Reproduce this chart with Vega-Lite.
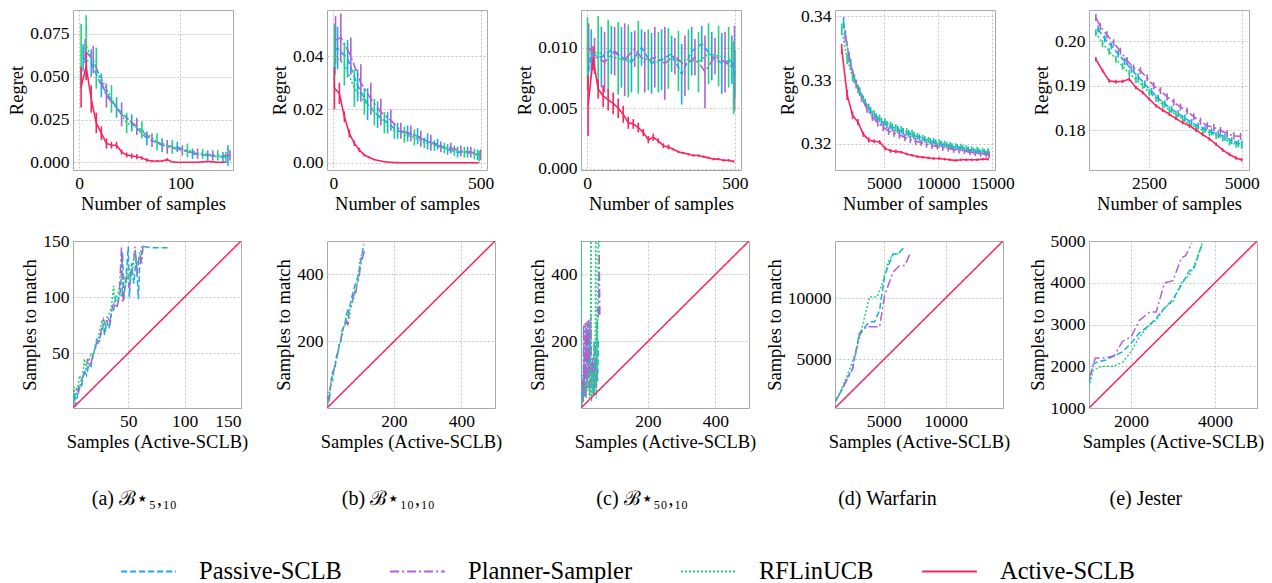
{
  "$schema": "https://vega.github.io/schema/vega-lite/v6.json",
  "background": "white",
  "padding": {"left": 7, "top": 6, "right": 5, "bottom": 0},
  "config": {
    "view": {"stroke": "#aaaaaa", "strokeWidth": 1},
    "axis": {
      "labelFont": "Liberation Serif", "titleFont": "Liberation Serif",
      "labelFontSize": 17.5, "titleFontSize": 18.5, "titleFontWeight": "normal",
      "labelColor": "#000", "titleColor": "#000",
      "domain": false, "ticks": false, "labelPadding": 4, "titlePadding": 3,
      "gridColor": "#b5b5b5", "gridDash": [2, 2], "gridWidth": 0.8
    },
    "title": {"font": "Liberation Serif", "fontSize": 20, "fontWeight": "normal", "color": "#000"}
  },
  "datasets": {
    "ta": [
      {"m":"Passive-SCLB","x":4,"y":0.061,"e":0.008},{"m":"Passive-SCLB","x":12,"y":0.058,"e":0.008},{"m":"Passive-SCLB","x":22,"y":0.045,"e":0.007},{"m":"Passive-SCLB","x":37,"y":0.032,"e":0.006},{"m":"Passive-SCLB","x":52,"y":0.023,"e":0.005},{"m":"Passive-SCLB","x":67,"y":0.014,"e":0.004},{"m":"Passive-SCLB","x":82,"y":0.010,"e":0.004},{"m":"Passive-SCLB","x":97,"y":0.009,"e":0.003},{"m":"Passive-SCLB","x":112,"y":0.005,"e":0.003},{"m":"Passive-SCLB","x":127,"y":0.004,"e":0.003},{"m":"Passive-SCLB","x":142,"y":0.003,"e":0.003},{"m":"Passive-SCLB","x":147,"y":0.004,"e":0.006},
      {"m":"Planner-Sampler","x":6,"y":0.065,"e":0.007},{"m":"Planner-Sampler","x":14,"y":0.060,"e":0.008},{"m":"Planner-Sampler","x":27,"y":0.039,"e":0.007},{"m":"Planner-Sampler","x":42,"y":0.028,"e":0.007},{"m":"Planner-Sampler","x":57,"y":0.021,"e":0.005},{"m":"Planner-Sampler","x":72,"y":0.013,"e":0.004},{"m":"Planner-Sampler","x":87,"y":0.009,"e":0.004},{"m":"Planner-Sampler","x":102,"y":0.007,"e":0.003},{"m":"Planner-Sampler","x":117,"y":0.005,"e":0.003},{"m":"Planner-Sampler","x":132,"y":0.004,"e":0.003},{"m":"Planner-Sampler","x":149,"y":0.004,"e":0.003},
      {"m":"RFLinUCB","x":2,"y":0.062,"e":0.019},{"m":"RFLinUCB","x":7,"y":0.068,"e":0.018},{"m":"RFLinUCB","x":17,"y":0.055,"e":0.012},{"m":"RFLinUCB","x":32,"y":0.037,"e":0.008},{"m":"RFLinUCB","x":47,"y":0.023,"e":0.006},{"m":"RFLinUCB","x":62,"y":0.019,"e":0.005},{"m":"RFLinUCB","x":77,"y":0.012,"e":0.005},{"m":"RFLinUCB","x":92,"y":0.009,"e":0.004},{"m":"RFLinUCB","x":107,"y":0.007,"e":0.004},{"m":"RFLinUCB","x":122,"y":0.005,"e":0.003},{"m":"RFLinUCB","x":137,"y":0.004,"e":0.003},{"m":"RFLinUCB","x":145,"y":0.003,"e":0.003},
      {"m":"Active-SCLB","x":2,"y":0.044,"e":0.012},{"m":"Active-SCLB","x":7,"y":0.056,"e":0.008},{"m":"Active-SCLB","x":12,"y":0.037,"e":0.008},{"m":"Active-SCLB","x":17,"y":0.023,"e":0.006},{"m":"Active-SCLB","x":22,"y":0.017,"e":0.004},{"m":"Active-SCLB","x":27,"y":0.011,"e":0.003},{"m":"Active-SCLB","x":32,"y":0.010,"e":0.002},{"m":"Active-SCLB","x":37,"y":0.010,"e":0.002},{"m":"Active-SCLB","x":42,"y":0.006,"e":0.0015},{"m":"Active-SCLB","x":47,"y":0.0043,"e":0.0015},{"m":"Active-SCLB","x":52,"y":0.0037,"e":0.0015},{"m":"Active-SCLB","x":57,"y":0.0033,"e":0.0015},{"m":"Active-SCLB","x":62,"y":0.0025,"e":0.001},{"m":"Active-SCLB","x":67,"y":0.0013,"e":0.001},{"m":"Active-SCLB","x":72,"y":0.0008,"e":0.0005},{"m":"Active-SCLB","x":77,"y":0.0007,"e":0.0005},{"m":"Active-SCLB","x":82,"y":0.0008,"e":0.0005},{"m":"Active-SCLB","x":87,"y":0.0015,"e":0.0008},{"m":"Active-SCLB","x":92,"y":0.0003,"e":0.0003},{"m":"Active-SCLB","x":97,"y":0,"e":0},{"m":"Active-SCLB","x":107,"y":0,"e":0},{"m":"Active-SCLB","x":117,"y":0,"e":0},{"m":"Active-SCLB","x":127,"y":0.0005,"e":0.0004},{"m":"Active-SCLB","x":137,"y":0,"e":0},{"m":"Active-SCLB","x":145,"y":0,"e":0}
    ],
    "tb": [
      {"m":"Passive-SCLB","x":5,"y":0.042,"e":0.009},{"m":"Passive-SCLB","x":14,"y":0.043,"e":0.008},{"m":"Passive-SCLB","x":48,"y":0.039,"e":0.007},{"m":"Passive-SCLB","x":82,"y":0.029,"e":0.006},{"m":"Passive-SCLB","x":116,"y":0.022,"e":0.006},{"m":"Passive-SCLB","x":150,"y":0.018,"e":0.005},{"m":"Passive-SCLB","x":184,"y":0.015,"e":0.004},{"m":"Passive-SCLB","x":218,"y":0.012,"e":0.003},{"m":"Passive-SCLB","x":252,"y":0.011,"e":0.003},{"m":"Passive-SCLB","x":286,"y":0.010,"e":0.003},{"m":"Passive-SCLB","x":320,"y":0.008,"e":0.003},{"m":"Passive-SCLB","x":354,"y":0.007,"e":0.002},{"m":"Passive-SCLB","x":388,"y":0.005,"e":0.002},{"m":"Passive-SCLB","x":422,"y":0.004,"e":0.002},{"m":"Passive-SCLB","x":456,"y":0.004,"e":0.002},{"m":"Passive-SCLB","x":490,"y":0.003,"e":0.002},
      {"m":"Planner-Sampler","x":7,"y":0.046,"e":0.009},{"m":"Planner-Sampler","x":25,"y":0.047,"e":0.009},{"m":"Planner-Sampler","x":59,"y":0.040,"e":0.007},{"m":"Planner-Sampler","x":93,"y":0.030,"e":0.007},{"m":"Planner-Sampler","x":127,"y":0.024,"e":0.006},{"m":"Planner-Sampler","x":161,"y":0.019,"e":0.005},{"m":"Planner-Sampler","x":195,"y":0.016,"e":0.004},{"m":"Planner-Sampler","x":229,"y":0.012,"e":0.003},{"m":"Planner-Sampler","x":263,"y":0.011,"e":0.003},{"m":"Planner-Sampler","x":297,"y":0.009,"e":0.003},{"m":"Planner-Sampler","x":331,"y":0.0075,"e":0.003},{"m":"Planner-Sampler","x":365,"y":0.006,"e":0.002},{"m":"Planner-Sampler","x":399,"y":0.0055,"e":0.002},{"m":"Planner-Sampler","x":433,"y":0.0045,"e":0.002},{"m":"Planner-Sampler","x":467,"y":0.004,"e":0.002},{"m":"Planner-Sampler","x":500,"y":0.003,"e":0.002},
      {"m":"RFLinUCB","x":3,"y":0.040,"e":0.012},{"m":"RFLinUCB","x":37,"y":0.037,"e":0.008},{"m":"RFLinUCB","x":71,"y":0.028,"e":0.007},{"m":"RFLinUCB","x":105,"y":0.023,"e":0.005},{"m":"RFLinUCB","x":139,"y":0.019,"e":0.005},{"m":"RFLinUCB","x":173,"y":0.015,"e":0.004},{"m":"RFLinUCB","x":207,"y":0.012,"e":0.003},{"m":"RFLinUCB","x":241,"y":0.0105,"e":0.003},{"m":"RFLinUCB","x":275,"y":0.0095,"e":0.003},{"m":"RFLinUCB","x":309,"y":0.0075,"e":0.002},{"m":"RFLinUCB","x":343,"y":0.0065,"e":0.002},{"m":"RFLinUCB","x":377,"y":0.0055,"e":0.002},{"m":"RFLinUCB","x":411,"y":0.0045,"e":0.002},{"m":"RFLinUCB","x":445,"y":0.004,"e":0.002},{"m":"RFLinUCB","x":479,"y":0.0033,"e":0.002},{"m":"RFLinUCB","x":496,"y":0.0025,"e":0.002},
      {"m":"Active-SCLB","x":3,"y":0.028,"e":0.008},{"m":"Active-SCLB","x":20,"y":0.026,"e":0.004},{"m":"Active-SCLB","x":37,"y":0.0173,"e":0.002},{"m":"Active-SCLB","x":54,"y":0.011,"e":0.0015},{"m":"Active-SCLB","x":71,"y":0.0073,"e":0.001},{"m":"Active-SCLB","x":88,"y":0.0048,"e":0.0008},{"m":"Active-SCLB","x":105,"y":0.0029,"e":0.0005},{"m":"Active-SCLB","x":122,"y":0.002,"e":0.0004},{"m":"Active-SCLB","x":139,"y":0.0012,"e":0.0003},{"m":"Active-SCLB","x":156,"y":0.0008,"e":0.0002},{"m":"Active-SCLB","x":173,"y":0.0004,"e":0.0001},{"m":"Active-SCLB","x":190,"y":0.0002,"e":0.0001},{"m":"Active-SCLB","x":207,"y":0.0001,"e":0},{"m":"Active-SCLB","x":241,"y":0,"e":0},{"m":"Active-SCLB","x":300,"y":0,"e":0},{"m":"Active-SCLB","x":400,"y":0,"e":0},{"m":"Active-SCLB","x":496,"y":0,"e":0}
    ],
    "tc": [
      {"m":"Passive-SCLB","x":3,"y":0.0080,"e":0.0015},{"m":"Passive-SCLB","x":14,"y":0.0095,"e":0.002},{"m":"Passive-SCLB","x":48,"y":0.0092,"e":0.0025},{"m":"Passive-SCLB","x":82,"y":0.0098,"e":0.002},{"m":"Passive-SCLB","x":116,"y":0.0092,"e":0.0025},{"m":"Passive-SCLB","x":150,"y":0.0088,"e":0.0025},{"m":"Passive-SCLB","x":184,"y":0.0100,"e":0.0015},{"m":"Passive-SCLB","x":218,"y":0.0087,"e":0.0025},{"m":"Passive-SCLB","x":252,"y":0.0090,"e":0.0025},{"m":"Passive-SCLB","x":286,"y":0.0095,"e":0.0015},{"m":"Passive-SCLB","x":320,"y":0.0078,"e":0.0025},{"m":"Passive-SCLB","x":354,"y":0.0097,"e":0.002},{"m":"Passive-SCLB","x":388,"y":0.0103,"e":0.0015},{"m":"Passive-SCLB","x":422,"y":0.0093,"e":0.002},{"m":"Passive-SCLB","x":456,"y":0.0087,"e":0.0025},{"m":"Passive-SCLB","x":490,"y":0.0090,"e":0.002},{"m":"Passive-SCLB","x":500,"y":0.0078,"e":0.002},
      {"m":"Planner-Sampler","x":5,"y":0.0100,"e":0.002},{"m":"Planner-Sampler","x":25,"y":0.0093,"e":0.0015},{"m":"Planner-Sampler","x":59,"y":0.0088,"e":0.0025},{"m":"Planner-Sampler","x":93,"y":0.0097,"e":0.002},{"m":"Planner-Sampler","x":127,"y":0.0090,"e":0.003},{"m":"Planner-Sampler","x":161,"y":0.0099,"e":0.0015},{"m":"Planner-Sampler","x":195,"y":0.0088,"e":0.0025},{"m":"Planner-Sampler","x":229,"y":0.0092,"e":0.0025},{"m":"Planner-Sampler","x":263,"y":0.0087,"e":0.003},{"m":"Planner-Sampler","x":297,"y":0.0093,"e":0.0015},{"m":"Planner-Sampler","x":331,"y":0.0085,"e":0.0025},{"m":"Planner-Sampler","x":365,"y":0.0092,"e":0.0015},{"m":"Planner-Sampler","x":399,"y":0.0080,"e":0.003},{"m":"Planner-Sampler","x":433,"y":0.0093,"e":0.0015},{"m":"Planner-Sampler","x":467,"y":0.0088,"e":0.0025},{"m":"Planner-Sampler","x":499,"y":0.0083,"e":0.0035},
      {"m":"RFLinUCB","x":1,"y":0.0095,"e":0.003},{"m":"RFLinUCB","x":37,"y":0.0096,"e":0.003},{"m":"RFLinUCB","x":71,"y":0.0093,"e":0.003},{"m":"RFLinUCB","x":105,"y":0.0091,"e":0.003},{"m":"RFLinUCB","x":139,"y":0.0089,"e":0.003},{"m":"RFLinUCB","x":173,"y":0.0092,"e":0.003},{"m":"RFLinUCB","x":207,"y":0.0090,"e":0.0025},{"m":"RFLinUCB","x":241,"y":0.0088,"e":0.0025},{"m":"RFLinUCB","x":275,"y":0.0091,"e":0.0025},{"m":"RFLinUCB","x":309,"y":0.0089,"e":0.0025},{"m":"RFLinUCB","x":343,"y":0.0090,"e":0.0025},{"m":"RFLinUCB","x":377,"y":0.0088,"e":0.0025},{"m":"RFLinUCB","x":411,"y":0.0095,"e":0.0025},{"m":"RFLinUCB","x":445,"y":0.0093,"e":0.0025},{"m":"RFLinUCB","x":479,"y":0.0092,"e":0.0025},{"m":"RFLinUCB","x":496,"y":0.0075,"e":0.003},
      {"m":"Active-SCLB","x":3,"y":0.0052,"e":0.0025},{"m":"Active-SCLB","x":20,"y":0.0091,"e":0.001},{"m":"Active-SCLB","x":37,"y":0.0066,"e":0.0008},{"m":"Active-SCLB","x":54,"y":0.0060,"e":0.0009},{"m":"Active-SCLB","x":71,"y":0.0057,"e":0.0009},{"m":"Active-SCLB","x":88,"y":0.0054,"e":0.0009},{"m":"Active-SCLB","x":105,"y":0.0050,"e":0.0008},{"m":"Active-SCLB","x":122,"y":0.0045,"e":0.0007},{"m":"Active-SCLB","x":139,"y":0.0038,"e":0.0005},{"m":"Active-SCLB","x":156,"y":0.0037,"e":0.0004},{"m":"Active-SCLB","x":173,"y":0.0034,"e":0.0004},{"m":"Active-SCLB","x":190,"y":0.0030,"e":0.0003},{"m":"Active-SCLB","x":207,"y":0.0024,"e":0.0003},{"m":"Active-SCLB","x":224,"y":0.0026,"e":0.0003},{"m":"Active-SCLB","x":241,"y":0.0023,"e":0.0002},{"m":"Active-SCLB","x":258,"y":0.0019,"e":0.0002},{"m":"Active-SCLB","x":275,"y":0.0018,"e":0.0002},{"m":"Active-SCLB","x":292,"y":0.0016,"e":0.0001},{"m":"Active-SCLB","x":309,"y":0.0014,"e":0.0001},{"m":"Active-SCLB","x":326,"y":0.0013,"e":0.0001},{"m":"Active-SCLB","x":343,"y":0.0012,"e":0.0001},{"m":"Active-SCLB","x":360,"y":0.0011,"e":0.0001},{"m":"Active-SCLB","x":377,"y":0.0011,"e":0.0001},{"m":"Active-SCLB","x":394,"y":0.0010,"e":0.0001},{"m":"Active-SCLB","x":411,"y":0.0009,"e":0.0001},{"m":"Active-SCLB","x":428,"y":0.0008,"e":0.0001},{"m":"Active-SCLB","x":445,"y":0.0008,"e":0.0001},{"m":"Active-SCLB","x":462,"y":0.0007,"e":0.0001},{"m":"Active-SCLB","x":479,"y":0.0007,"e":0.0001},{"m":"Active-SCLB","x":496,"y":0.0006,"e":0.0001}
    ],
    "td": [
      {"m":"Passive-SCLB","x":1270,"y":0.3390,"e":0.0009},{"m":"Passive-SCLB","x":1770,"y":0.3336,"e":0.0008},{"m":"Passive-SCLB","x":2270,"y":0.3302,"e":0.0007},{"m":"Passive-SCLB","x":2770,"y":0.3282,"e":0.0007},{"m":"Passive-SCLB","x":3270,"y":0.3265,"e":0.0006},{"m":"Passive-SCLB","x":3770,"y":0.3252,"e":0.0006},{"m":"Passive-SCLB","x":4270,"y":0.3242,"e":0.0006},{"m":"Passive-SCLB","x":4770,"y":0.3235,"e":0.0006},{"m":"Passive-SCLB","x":5270,"y":0.3230,"e":0.0006},{"m":"Passive-SCLB","x":5770,"y":0.3226,"e":0.0006},{"m":"Passive-SCLB","x":6270,"y":0.3222,"e":0.0006},{"m":"Passive-SCLB","x":6770,"y":0.3219,"e":0.0006},{"m":"Passive-SCLB","x":7270,"y":0.3216,"e":0.0006},{"m":"Passive-SCLB","x":7770,"y":0.3213,"e":0.0006},{"m":"Passive-SCLB","x":8270,"y":0.3210,"e":0.0005},{"m":"Passive-SCLB","x":8770,"y":0.3207,"e":0.0005},{"m":"Passive-SCLB","x":9270,"y":0.3204,"e":0.0005},{"m":"Passive-SCLB","x":9770,"y":0.3202,"e":0.0005},{"m":"Passive-SCLB","x":10270,"y":0.3200,"e":0.0005},{"m":"Passive-SCLB","x":10770,"y":0.3198,"e":0.0005},{"m":"Passive-SCLB","x":11270,"y":0.3196,"e":0.0005},{"m":"Passive-SCLB","x":11770,"y":0.3195,"e":0.0005},{"m":"Passive-SCLB","x":12270,"y":0.3193,"e":0.0005},{"m":"Passive-SCLB","x":12770,"y":0.3191,"e":0.0005},{"m":"Passive-SCLB","x":13270,"y":0.3189,"e":0.0005},{"m":"Passive-SCLB","x":13770,"y":0.3188,"e":0.0005},{"m":"Passive-SCLB","x":14270,"y":0.3187,"e":0.0005},{"m":"Passive-SCLB","x":14650,"y":0.3186,"e":0.0005},
      {"m":"Planner-Sampler","x":1430,"y":0.3370,"e":0.0009},{"m":"Planner-Sampler","x":1930,"y":0.3325,"e":0.0008},{"m":"Planner-Sampler","x":2430,"y":0.3294,"e":0.0007},{"m":"Planner-Sampler","x":2930,"y":0.3273,"e":0.0007},{"m":"Planner-Sampler","x":3430,"y":0.3255,"e":0.0006},{"m":"Planner-Sampler","x":3930,"y":0.3242,"e":0.0006},{"m":"Planner-Sampler","x":4430,"y":0.3233,"e":0.0006},{"m":"Planner-Sampler","x":4930,"y":0.3226,"e":0.0006},{"m":"Planner-Sampler","x":5430,"y":0.3220,"e":0.0006},{"m":"Planner-Sampler","x":5930,"y":0.3217,"e":0.0006},{"m":"Planner-Sampler","x":6430,"y":0.3214,"e":0.0006},{"m":"Planner-Sampler","x":6930,"y":0.3210,"e":0.0006},{"m":"Planner-Sampler","x":7430,"y":0.3207,"e":0.0006},{"m":"Planner-Sampler","x":7930,"y":0.3204,"e":0.0006},{"m":"Planner-Sampler","x":8430,"y":0.3202,"e":0.0005},{"m":"Planner-Sampler","x":8930,"y":0.3199,"e":0.0005},{"m":"Planner-Sampler","x":9430,"y":0.3197,"e":0.0005},{"m":"Planner-Sampler","x":9930,"y":0.3196,"e":0.0005},{"m":"Planner-Sampler","x":10430,"y":0.3194,"e":0.0005},{"m":"Planner-Sampler","x":10930,"y":0.3193,"e":0.0005},{"m":"Planner-Sampler","x":11430,"y":0.3191,"e":0.0005},{"m":"Planner-Sampler","x":11930,"y":0.3190,"e":0.0005},{"m":"Planner-Sampler","x":12430,"y":0.3189,"e":0.0005},{"m":"Planner-Sampler","x":12930,"y":0.3187,"e":0.0005},{"m":"Planner-Sampler","x":13430,"y":0.3186,"e":0.0005},{"m":"Planner-Sampler","x":13930,"y":0.3185,"e":0.0005},{"m":"Planner-Sampler","x":14430,"y":0.3184,"e":0.0005},{"m":"Planner-Sampler","x":14700,"y":0.3183,"e":0.0005},
      {"m":"RFLinUCB","x":1100,"y":0.3380,"e":0.0009},{"m":"RFLinUCB","x":1600,"y":0.3333,"e":0.0008},{"m":"RFLinUCB","x":2100,"y":0.3305,"e":0.0007},{"m":"RFLinUCB","x":2600,"y":0.3286,"e":0.0007},{"m":"RFLinUCB","x":3100,"y":0.3270,"e":0.0006},{"m":"RFLinUCB","x":3600,"y":0.3257,"e":0.0006},{"m":"RFLinUCB","x":4100,"y":0.3247,"e":0.0006},{"m":"RFLinUCB","x":4600,"y":0.3240,"e":0.0006},{"m":"RFLinUCB","x":5100,"y":0.3234,"e":0.0006},{"m":"RFLinUCB","x":5600,"y":0.3229,"e":0.0006},{"m":"RFLinUCB","x":6100,"y":0.3225,"e":0.0006},{"m":"RFLinUCB","x":6600,"y":0.3222,"e":0.0006},{"m":"RFLinUCB","x":7100,"y":0.3219,"e":0.0006},{"m":"RFLinUCB","x":7600,"y":0.3216,"e":0.0006},{"m":"RFLinUCB","x":8100,"y":0.3212,"e":0.0005},{"m":"RFLinUCB","x":8600,"y":0.3209,"e":0.0005},{"m":"RFLinUCB","x":9100,"y":0.3206,"e":0.0005},{"m":"RFLinUCB","x":9600,"y":0.3204,"e":0.0005},{"m":"RFLinUCB","x":10100,"y":0.3202,"e":0.0005},{"m":"RFLinUCB","x":10600,"y":0.3200,"e":0.0005},{"m":"RFLinUCB","x":11100,"y":0.3198,"e":0.0005},{"m":"RFLinUCB","x":11600,"y":0.3196,"e":0.0005},{"m":"RFLinUCB","x":12100,"y":0.3195,"e":0.0005},{"m":"RFLinUCB","x":12600,"y":0.3193,"e":0.0005},{"m":"RFLinUCB","x":13100,"y":0.3191,"e":0.0005},{"m":"RFLinUCB","x":13600,"y":0.3190,"e":0.0005},{"m":"RFLinUCB","x":14100,"y":0.3189,"e":0.0005},{"m":"RFLinUCB","x":14600,"y":0.3188,"e":0.0005},
      {"m":"Active-SCLB","x":1100,"y":0.3349,"e":0.0008},{"m":"Active-SCLB","x":1600,"y":0.3277,"e":0.0008},{"m":"Active-SCLB","x":2100,"y":0.3245,"e":0.0006},{"m":"Active-SCLB","x":2600,"y":0.3234,"e":0.0005},{"m":"Active-SCLB","x":3100,"y":0.3215,"e":0.0004},{"m":"Active-SCLB","x":3600,"y":0.3206,"e":0.0004},{"m":"Active-SCLB","x":4100,"y":0.3204,"e":0.0003},{"m":"Active-SCLB","x":4600,"y":0.3203,"e":0.0003},{"m":"Active-SCLB","x":5100,"y":0.3193,"e":0.0003},{"m":"Active-SCLB","x":5600,"y":0.3189,"e":0.0003},{"m":"Active-SCLB","x":6100,"y":0.3188,"e":0.0003},{"m":"Active-SCLB","x":6600,"y":0.3187,"e":0.0002},{"m":"Active-SCLB","x":7100,"y":0.3184,"e":0.0002},{"m":"Active-SCLB","x":7600,"y":0.3182,"e":0.0002},{"m":"Active-SCLB","x":8100,"y":0.3180,"e":0.0002},{"m":"Active-SCLB","x":8600,"y":0.3179,"e":0.0002},{"m":"Active-SCLB","x":9100,"y":0.3178,"e":0.0002},{"m":"Active-SCLB","x":9600,"y":0.3177,"e":0.0002},{"m":"Active-SCLB","x":10100,"y":0.3177,"e":0.0002},{"m":"Active-SCLB","x":10600,"y":0.3176,"e":0.0002},{"m":"Active-SCLB","x":11100,"y":0.3175,"e":0.0002},{"m":"Active-SCLB","x":11600,"y":0.3174,"e":0.0002},{"m":"Active-SCLB","x":12100,"y":0.3175,"e":0.0002},{"m":"Active-SCLB","x":12600,"y":0.3175,"e":0.0002},{"m":"Active-SCLB","x":13100,"y":0.3175,"e":0.0002},{"m":"Active-SCLB","x":13600,"y":0.3175,"e":0.0002},{"m":"Active-SCLB","x":14100,"y":0.3176,"e":0.0002},{"m":"Active-SCLB","x":14600,"y":0.3176,"e":0.0002}
    ],
    "te": [
      {"m":"Passive-SCLB","x":1130,"y":0.2028,"e":0.0008},{"m":"Passive-SCLB","x":1310,"y":0.2006,"e":0.0008},{"m":"Passive-SCLB","x":1490,"y":0.1990,"e":0.0008},{"m":"Passive-SCLB","x":1670,"y":0.1972,"e":0.0008},{"m":"Passive-SCLB","x":1850,"y":0.1955,"e":0.0008},{"m":"Passive-SCLB","x":2030,"y":0.1937,"e":0.0008},{"m":"Passive-SCLB","x":2210,"y":0.1920,"e":0.0008},{"m":"Passive-SCLB","x":2390,"y":0.1904,"e":0.0008},{"m":"Passive-SCLB","x":2570,"y":0.1887,"e":0.0008},{"m":"Passive-SCLB","x":2750,"y":0.1872,"e":0.0008},{"m":"Passive-SCLB","x":2930,"y":0.1859,"e":0.0008},{"m":"Passive-SCLB","x":3110,"y":0.1847,"e":0.0008},{"m":"Passive-SCLB","x":3290,"y":0.1837,"e":0.0008},{"m":"Passive-SCLB","x":3470,"y":0.1827,"e":0.0008},{"m":"Passive-SCLB","x":3650,"y":0.1817,"e":0.0008},{"m":"Passive-SCLB","x":3830,"y":0.1809,"e":0.0008},{"m":"Passive-SCLB","x":4010,"y":0.1802,"e":0.0008},{"m":"Passive-SCLB","x":4190,"y":0.1796,"e":0.0008},{"m":"Passive-SCLB","x":4370,"y":0.1790,"e":0.0008},{"m":"Passive-SCLB","x":4550,"y":0.1784,"e":0.0008},{"m":"Passive-SCLB","x":4730,"y":0.1776,"e":0.0008},{"m":"Passive-SCLB","x":4910,"y":0.1770,"e":0.0008},{"m":"Passive-SCLB","x":5000,"y":0.1768,"e":0.0008},
      {"m":"Planner-Sampler","x":1070,"y":0.2054,"e":0.0008},{"m":"Planner-Sampler","x":1190,"y":0.2034,"e":0.0008},{"m":"Planner-Sampler","x":1370,"y":0.2015,"e":0.0008},{"m":"Planner-Sampler","x":1550,"y":0.1997,"e":0.0008},{"m":"Planner-Sampler","x":1730,"y":0.1978,"e":0.0008},{"m":"Planner-Sampler","x":1910,"y":0.1957,"e":0.0008},{"m":"Planner-Sampler","x":2090,"y":0.1940,"e":0.0008},{"m":"Planner-Sampler","x":2270,"y":0.1934,"e":0.0008},{"m":"Planner-Sampler","x":2450,"y":0.1918,"e":0.0008},{"m":"Planner-Sampler","x":2630,"y":0.1900,"e":0.0008},{"m":"Planner-Sampler","x":2810,"y":0.1889,"e":0.0008},{"m":"Planner-Sampler","x":2990,"y":0.1875,"e":0.0008},{"m":"Planner-Sampler","x":3170,"y":0.1863,"e":0.0008},{"m":"Planner-Sampler","x":3350,"y":0.1852,"e":0.0008},{"m":"Planner-Sampler","x":3530,"y":0.1843,"e":0.0008},{"m":"Planner-Sampler","x":3710,"y":0.1830,"e":0.0008},{"m":"Planner-Sampler","x":3890,"y":0.1820,"e":0.0008},{"m":"Planner-Sampler","x":4070,"y":0.1810,"e":0.0008},{"m":"Planner-Sampler","x":4250,"y":0.1806,"e":0.0008},{"m":"Planner-Sampler","x":4430,"y":0.1799,"e":0.0008},{"m":"Planner-Sampler","x":4610,"y":0.1792,"e":0.0008},{"m":"Planner-Sampler","x":4790,"y":0.1787,"e":0.0008},{"m":"Planner-Sampler","x":4970,"y":0.1786,"e":0.0008},
      {"m":"RFLinUCB","x":1070,"y":0.2020,"e":0.0008},{"m":"RFLinUCB","x":1250,"y":0.1995,"e":0.0008},{"m":"RFLinUCB","x":1430,"y":0.1978,"e":0.0008},{"m":"RFLinUCB","x":1610,"y":0.1960,"e":0.0008},{"m":"RFLinUCB","x":1790,"y":0.1944,"e":0.0008},{"m":"RFLinUCB","x":1970,"y":0.1928,"e":0.0008},{"m":"RFLinUCB","x":2150,"y":0.1914,"e":0.0008},{"m":"RFLinUCB","x":2330,"y":0.1900,"e":0.0008},{"m":"RFLinUCB","x":2510,"y":0.1885,"e":0.0008},{"m":"RFLinUCB","x":2690,"y":0.1872,"e":0.0008},{"m":"RFLinUCB","x":2870,"y":0.1858,"e":0.0008},{"m":"RFLinUCB","x":3050,"y":0.1845,"e":0.0008},{"m":"RFLinUCB","x":3230,"y":0.1835,"e":0.0008},{"m":"RFLinUCB","x":3410,"y":0.1825,"e":0.0008},{"m":"RFLinUCB","x":3590,"y":0.1813,"e":0.0008},{"m":"RFLinUCB","x":3770,"y":0.1806,"e":0.0008},{"m":"RFLinUCB","x":3950,"y":0.1800,"e":0.0008},{"m":"RFLinUCB","x":4130,"y":0.1794,"e":0.0008},{"m":"RFLinUCB","x":4310,"y":0.1788,"e":0.0008},{"m":"RFLinUCB","x":4490,"y":0.1782,"e":0.0008},{"m":"RFLinUCB","x":4670,"y":0.1773,"e":0.0008},{"m":"RFLinUCB","x":4850,"y":0.1768,"e":0.0008},{"m":"RFLinUCB","x":5000,"y":0.1766,"e":0.0008},
      {"m":"Active-SCLB","x":1070,"y":0.1960,"e":0.0005},{"m":"Active-SCLB","x":1250,"y":0.1934,"e":0.0004},{"m":"Active-SCLB","x":1430,"y":0.1911,"e":0.0004},{"m":"Active-SCLB","x":1610,"y":0.1909,"e":0.0004},{"m":"Active-SCLB","x":1790,"y":0.1910,"e":0.0004},{"m":"Active-SCLB","x":1970,"y":0.1915,"e":0.0004},{"m":"Active-SCLB","x":2150,"y":0.1896,"e":0.0004},{"m":"Active-SCLB","x":2330,"y":0.1885,"e":0.0004},{"m":"Active-SCLB","x":2510,"y":0.1870,"e":0.0004},{"m":"Active-SCLB","x":2690,"y":0.1855,"e":0.0004},{"m":"Active-SCLB","x":2870,"y":0.1845,"e":0.0004},{"m":"Active-SCLB","x":3050,"y":0.1836,"e":0.0004},{"m":"Active-SCLB","x":3230,"y":0.1826,"e":0.0004},{"m":"Active-SCLB","x":3410,"y":0.1817,"e":0.0004},{"m":"Active-SCLB","x":3590,"y":0.1810,"e":0.0004},{"m":"Active-SCLB","x":3770,"y":0.1800,"e":0.0004},{"m":"Active-SCLB","x":3950,"y":0.1790,"e":0.0004},{"m":"Active-SCLB","x":4130,"y":0.1780,"e":0.0004},{"m":"Active-SCLB","x":4310,"y":0.1768,"e":0.0004},{"m":"Active-SCLB","x":4490,"y":0.1755,"e":0.0004},{"m":"Active-SCLB","x":4670,"y":0.1745,"e":0.0004},{"m":"Active-SCLB","x":4850,"y":0.1737,"e":0.0004},{"m":"Active-SCLB","x":5000,"y":0.1733,"e":0.0004}
    ],
    "ba": [
      {"m":"Passive-SCLB","x":1,"y":1},{"m":"Passive-SCLB","x":2,"y":15},{"m":"Passive-SCLB","x":3,"y":3},{"m":"Passive-SCLB","x":5,"y":12},{"m":"Passive-SCLB","x":6,"y":20},{"m":"Passive-SCLB","x":8,"y":18},{"m":"Passive-SCLB","x":10,"y":28},{"m":"Passive-SCLB","x":11,"y":35},{"m":"Passive-SCLB","x":13,"y":30},{"m":"Passive-SCLB","x":15,"y":40},{"m":"Passive-SCLB","x":17,"y":38},{"m":"Passive-SCLB","x":19,"y":50},{"m":"Passive-SCLB","x":21,"y":55},{"m":"Passive-SCLB","x":22,"y":62},{"m":"Passive-SCLB","x":24,"y":60},{"m":"Passive-SCLB","x":26,"y":68},{"m":"Passive-SCLB","x":28,"y":75},{"m":"Passive-SCLB","x":29,"y":66},{"m":"Passive-SCLB","x":31,"y":78},{"m":"Passive-SCLB","x":33,"y":72},{"m":"Passive-SCLB","x":35,"y":85},{"m":"Passive-SCLB","x":37,"y":88},{"m":"Passive-SCLB","x":39,"y":100},{"m":"Passive-SCLB","x":41,"y":96},{"m":"Passive-SCLB","x":43,"y":105},{"m":"Passive-SCLB","x":45,"y":140},{"m":"Passive-SCLB","x":46,"y":97},{"m":"Passive-SCLB","x":48,"y":118},{"m":"Passive-SCLB","x":50,"y":145},{"m":"Passive-SCLB","x":51,"y":100},{"m":"Passive-SCLB","x":53,"y":130},{"m":"Passive-SCLB","x":55,"y":112},{"m":"Passive-SCLB","x":57,"y":135},{"m":"Passive-SCLB","x":59,"y":98},{"m":"Passive-SCLB","x":60,"y":125},{"m":"Passive-SCLB","x":62,"y":140},{"m":"Passive-SCLB","x":64,"y":145},{"m":"Passive-SCLB","x":70,"y":144},{"m":"Passive-SCLB","x":80,"y":144},{"m":"Passive-SCLB","x":86,"y":144},
      {"m":"Planner-Sampler","x":1,"y":2},{"m":"Planner-Sampler","x":2,"y":8},{"m":"Planner-Sampler","x":4,"y":18},{"m":"Planner-Sampler","x":6,"y":15},{"m":"Planner-Sampler","x":8,"y":25},{"m":"Planner-Sampler","x":10,"y":30},{"m":"Planner-Sampler","x":12,"y":33},{"m":"Planner-Sampler","x":14,"y":45},{"m":"Planner-Sampler","x":16,"y":38},{"m":"Planner-Sampler","x":18,"y":45},{"m":"Planner-Sampler","x":20,"y":52},{"m":"Planner-Sampler","x":22,"y":60},{"m":"Planner-Sampler","x":24,"y":58},{"m":"Planner-Sampler","x":26,"y":70},{"m":"Planner-Sampler","x":28,"y":80},{"m":"Planner-Sampler","x":30,"y":74},{"m":"Planner-Sampler","x":32,"y":82},{"m":"Planner-Sampler","x":34,"y":77},{"m":"Planner-Sampler","x":36,"y":92},{"m":"Planner-Sampler","x":38,"y":95},{"m":"Planner-Sampler","x":40,"y":90},{"m":"Planner-Sampler","x":42,"y":102},{"m":"Planner-Sampler","x":44,"y":145},{"m":"Planner-Sampler","x":45,"y":95},{"m":"Planner-Sampler","x":47,"y":110},{"m":"Planner-Sampler","x":49,"y":120},{"m":"Planner-Sampler","x":51,"y":108},{"m":"Planner-Sampler","x":53,"y":125},{"m":"Planner-Sampler","x":55,"y":135},{"m":"Planner-Sampler","x":56,"y":145},{"m":"Planner-Sampler","x":58,"y":120},{"m":"Planner-Sampler","x":60,"y":140},{"m":"Planner-Sampler","x":62,"y":130},{"m":"Planner-Sampler","x":63,"y":145},{"m":"Planner-Sampler","x":66,"y":145},
      {"m":"RFLinUCB","x":1,"y":5},{"m":"RFLinUCB","x":2,"y":20},{"m":"RFLinUCB","x":3,"y":8},{"m":"RFLinUCB","x":5,"y":18},{"m":"RFLinUCB","x":7,"y":30},{"m":"RFLinUCB","x":9,"y":22},{"m":"RFLinUCB","x":11,"y":45},{"m":"RFLinUCB","x":13,"y":35},{"m":"RFLinUCB","x":15,"y":42},{"m":"RFLinUCB","x":17,"y":50},{"m":"RFLinUCB","x":19,"y":48},{"m":"RFLinUCB","x":21,"y":58},{"m":"RFLinUCB","x":23,"y":62},{"m":"RFLinUCB","x":25,"y":72},{"m":"RFLinUCB","x":27,"y":80},{"m":"RFLinUCB","x":29,"y":70},{"m":"RFLinUCB","x":31,"y":82},{"m":"RFLinUCB","x":33,"y":85},{"m":"RFLinUCB","x":35,"y":90},{"m":"RFLinUCB","x":37,"y":110},{"m":"RFLinUCB","x":38,"y":95},{"m":"RFLinUCB","x":40,"y":100},{"m":"RFLinUCB","x":42,"y":108},{"m":"RFLinUCB","x":44,"y":100},{"m":"RFLinUCB","x":46,"y":120},{"m":"RFLinUCB","x":48,"y":110},{"m":"RFLinUCB","x":50,"y":130},{"m":"RFLinUCB","x":52,"y":115},{"m":"RFLinUCB","x":54,"y":125},{"m":"RFLinUCB","x":56,"y":140},{"m":"RFLinUCB","x":58,"y":130},{"m":"RFLinUCB","x":60,"y":135},{"m":"RFLinUCB","x":62,"y":145},
      {"m":"Active-SCLB","x":1,"y":1},{"m":"Active-SCLB","x":150,"y":150}
    ],
    "bb": [
      {"m":"Passive-SCLB","x":2,"y":5},{"m":"Passive-SCLB","x":5,"y":35},{"m":"Passive-SCLB","x":8,"y":20},{"m":"Passive-SCLB","x":10,"y":55},{"m":"Passive-SCLB","x":15,"y":90},{"m":"Passive-SCLB","x":18,"y":85},{"m":"Passive-SCLB","x":20,"y":110},{"m":"Passive-SCLB","x":25,"y":120},{"m":"Passive-SCLB","x":28,"y":150},{"m":"Passive-SCLB","x":30,"y":160},{"m":"Passive-SCLB","x":35,"y":170},{"m":"Passive-SCLB","x":38,"y":200},{"m":"Passive-SCLB","x":42,"y":205},{"m":"Passive-SCLB","x":45,"y":230},{"m":"Passive-SCLB","x":50,"y":245},{"m":"Passive-SCLB","x":55,"y":255},{"m":"Passive-SCLB","x":58,"y":280},{"m":"Passive-SCLB","x":62,"y":290},{"m":"Passive-SCLB","x":65,"y":300},{"m":"Passive-SCLB","x":70,"y":310},{"m":"Passive-SCLB","x":74,"y":330},{"m":"Passive-SCLB","x":78,"y":345},{"m":"Passive-SCLB","x":82,"y":360},{"m":"Passive-SCLB","x":86,"y":375},{"m":"Passive-SCLB","x":90,"y":385},{"m":"Passive-SCLB","x":94,"y":400},{"m":"Passive-SCLB","x":98,"y":420},{"m":"Passive-SCLB","x":102,"y":445},{"m":"Passive-SCLB","x":106,"y":465},{"m":"Passive-SCLB","x":110,"y":490},
      {"m":"Planner-Sampler","x":2,"y":10},{"m":"Planner-Sampler","x":4,"y":50},{"m":"Planner-Sampler","x":6,"y":20},{"m":"Planner-Sampler","x":10,"y":50},{"m":"Planner-Sampler","x":14,"y":90},{"m":"Planner-Sampler","x":18,"y":110},{"m":"Planner-Sampler","x":22,"y":115},{"m":"Planner-Sampler","x":26,"y":140},{"m":"Planner-Sampler","x":30,"y":150},{"m":"Planner-Sampler","x":34,"y":170},{"m":"Planner-Sampler","x":38,"y":190},{"m":"Planner-Sampler","x":42,"y":200},{"m":"Planner-Sampler","x":46,"y":225},{"m":"Planner-Sampler","x":50,"y":240},{"m":"Planner-Sampler","x":55,"y":250},{"m":"Planner-Sampler","x":60,"y":260},{"m":"Planner-Sampler","x":64,"y":245},{"m":"Planner-Sampler","x":66,"y":290},{"m":"Planner-Sampler","x":70,"y":300},{"m":"Planner-Sampler","x":74,"y":305},{"m":"Planner-Sampler","x":78,"y":330},{"m":"Planner-Sampler","x":82,"y":350},{"m":"Planner-Sampler","x":86,"y":340},{"m":"Planner-Sampler","x":90,"y":370},{"m":"Planner-Sampler","x":95,"y":385},{"m":"Planner-Sampler","x":100,"y":420},{"m":"Planner-Sampler","x":104,"y":440},{"m":"Planner-Sampler","x":108,"y":455},{"m":"Planner-Sampler","x":112,"y":470},
      {"m":"RFLinUCB","x":2,"y":8},{"m":"RFLinUCB","x":5,"y":25},{"m":"RFLinUCB","x":8,"y":45},{"m":"RFLinUCB","x":12,"y":70},{"m":"RFLinUCB","x":16,"y":95},{"m":"RFLinUCB","x":20,"y":100},{"m":"RFLinUCB","x":24,"y":130},{"m":"RFLinUCB","x":28,"y":145},{"m":"RFLinUCB","x":32,"y":160},{"m":"RFLinUCB","x":36,"y":180},{"m":"RFLinUCB","x":40,"y":195},{"m":"RFLinUCB","x":44,"y":215},{"m":"RFLinUCB","x":48,"y":235},{"m":"RFLinUCB","x":52,"y":245},{"m":"RFLinUCB","x":56,"y":260},{"m":"RFLinUCB","x":60,"y":275},{"m":"RFLinUCB","x":64,"y":285},{"m":"RFLinUCB","x":68,"y":270},{"m":"RFLinUCB","x":70,"y":300},{"m":"RFLinUCB","x":74,"y":310},{"m":"RFLinUCB","x":78,"y":320},{"m":"RFLinUCB","x":82,"y":335},{"m":"RFLinUCB","x":86,"y":355},{"m":"RFLinUCB","x":90,"y":370},{"m":"RFLinUCB","x":94,"y":390},{"m":"RFLinUCB","x":98,"y":440},{"m":"RFLinUCB","x":102,"y":455},{"m":"RFLinUCB","x":106,"y":460},
      {"m":"Active-SCLB","x":1,"y":1},{"m":"Active-SCLB","x":500,"y":500}
    ],
    "bc": [
      {"m":"Passive-SCLB","x":2,"y":5},{"m":"Passive-SCLB","x":5,"y":60},{"m":"Passive-SCLB","x":7,"y":20},{"m":"Passive-SCLB","x":10,"y":150},{"m":"Passive-SCLB","x":13,"y":30},{"m":"Passive-SCLB","x":16,"y":240},{"m":"Passive-SCLB","x":19,"y":60},{"m":"Passive-SCLB","x":22,"y":250},{"m":"Passive-SCLB","x":25,"y":90},{"m":"Passive-SCLB","x":28,"y":260},{"m":"Passive-SCLB","x":31,"y":60},{"m":"Passive-SCLB","x":34,"y":130},{"m":"Passive-SCLB","x":37,"y":40},{"m":"Passive-SCLB","x":40,"y":200},{"m":"Passive-SCLB","x":43,"y":60},{"m":"Passive-SCLB","x":46,"y":150},{"m":"Passive-SCLB","x":50,"y":80},{"m":"Passive-SCLB","x":53,"y":200},
      {"m":"Planner-Sampler","x":3,"y":10},{"m":"Planner-Sampler","x":4,"y":100},{"m":"Planner-Sampler","x":6,"y":80},{"m":"Planner-Sampler","x":8,"y":20},{"m":"Planner-Sampler","x":9,"y":250},{"m":"Planner-Sampler","x":11,"y":40},{"m":"Planner-Sampler","x":14,"y":255},{"m":"Planner-Sampler","x":16,"y":30},{"m":"Planner-Sampler","x":19,"y":260},{"m":"Planner-Sampler","x":22,"y":60},{"m":"Planner-Sampler","x":24,"y":265},{"m":"Planner-Sampler","x":27,"y":40},{"m":"Planner-Sampler","x":30,"y":275},{"m":"Planner-Sampler","x":33,"y":80},{"m":"Planner-Sampler","x":36,"y":150},{"m":"Planner-Sampler","x":40,"y":40},{"m":"Planner-Sampler","x":44,"y":200},{"m":"Planner-Sampler","x":47,"y":60},{"m":"Planner-Sampler","x":50,"y":300},{"m":"Planner-Sampler","x":53,"y":270},{"m":"Planner-Sampler","x":55,"y":470},{"m":"Planner-Sampler","x":57,"y":280},
      {"m":"RFLinUCB","x":1,"y":5},{"m":"RFLinUCB","x":1.5,"y":500},{"m":"RFLinUCB","x":2,"y":500},{"m":"RFLinUCB","x":2.5,"y":10},{"m":"RFLinUCB","x":6,"y":30},{"m":"RFLinUCB","x":10,"y":40},{"m":"RFLinUCB","x":14,"y":80},{"m":"RFLinUCB","x":18,"y":50},{"m":"RFLinUCB","x":22,"y":120},{"m":"RFLinUCB","x":26,"y":30},{"m":"RFLinUCB","x":29,"y":60},{"m":"RFLinUCB","x":30,"y":500},{"m":"RFLinUCB","x":31,"y":500},{"m":"RFLinUCB","x":32,"y":20},{"m":"RFLinUCB","x":36,"y":110},{"m":"RFLinUCB","x":40,"y":40},{"m":"RFLinUCB","x":43,"y":150},{"m":"RFLinUCB","x":45,"y":500},{"m":"RFLinUCB","x":46,"y":30},{"m":"RFLinUCB","x":48,"y":260},{"m":"RFLinUCB","x":50,"y":120},{"m":"RFLinUCB","x":52,"y":500},{"m":"RFLinUCB","x":54,"y":500},{"m":"RFLinUCB","x":55,"y":480},
      {"m":"Active-SCLB","x":1,"y":1},{"m":"Active-SCLB","x":500,"y":500}
    ],
    "bd": [
      {"m":"Passive-SCLB","x":1050,"y":1550},{"m":"Passive-SCLB","x":1500,"y":2350},{"m":"Passive-SCLB","x":2000,"y":3400},{"m":"Passive-SCLB","x":2470,"y":4290},{"m":"Passive-SCLB","x":3020,"y":7125},{"m":"Passive-SCLB","x":3840,"y":8065},{"m":"Passive-SCLB","x":4250,"y":8065},{"m":"Passive-SCLB","x":4660,"y":9010},{"m":"Passive-SCLB","x":5070,"y":11850},{"m":"Passive-SCLB","x":5750,"y":13600},{"m":"Passive-SCLB","x":6160,"y":13600},{"m":"Passive-SCLB","x":6570,"y":14060},
      {"m":"Planner-Sampler","x":1050,"y":1550},{"m":"Planner-Sampler","x":1500,"y":2300},{"m":"Planner-Sampler","x":2000,"y":3300},{"m":"Planner-Sampler","x":2470,"y":4200},{"m":"Planner-Sampler","x":3020,"y":7000},{"m":"Planner-Sampler","x":3580,"y":7660},{"m":"Planner-Sampler","x":4250,"y":7660},{"m":"Planner-Sampler","x":4660,"y":7660},{"m":"Planner-Sampler","x":5070,"y":10230},{"m":"Planner-Sampler","x":5750,"y":12125},{"m":"Planner-Sampler","x":6300,"y":12660},{"m":"Planner-Sampler","x":6710,"y":12660},{"m":"Planner-Sampler","x":7120,"y":13600},
      {"m":"RFLinUCB","x":1050,"y":1500},{"m":"RFLinUCB","x":1500,"y":2400},{"m":"RFLinUCB","x":2000,"y":3600},{"m":"RFLinUCB","x":2750,"y":5635},{"m":"RFLinUCB","x":3290,"y":7800},{"m":"RFLinUCB","x":3840,"y":10090},{"m":"RFLinUCB","x":4460,"y":10090},{"m":"RFLinUCB","x":4930,"y":11310},{"m":"RFLinUCB","x":5340,"y":12925},{"m":"RFLinUCB","x":5750,"y":13600},{"m":"RFLinUCB","x":6160,"y":13600},{"m":"RFLinUCB","x":6570,"y":14060},
      {"m":"Active-SCLB","x":1050,"y":1050},{"m":"Active-SCLB","x":14650,"y":14650}
    ],
    "be": [
      {"m":"Passive-SCLB","x":1000,"y":1600},{"m":"Passive-SCLB","x":1100,"y":2050},{"m":"Passive-SCLB","x":1200,"y":2100},{"m":"Passive-SCLB","x":1400,"y":2150},{"m":"Passive-SCLB","x":1600,"y":2250},{"m":"Passive-SCLB","x":1800,"y":2350},{"m":"Passive-SCLB","x":2000,"y":2550},{"m":"Passive-SCLB","x":2200,"y":2800},{"m":"Passive-SCLB","x":2400,"y":2950},{"m":"Passive-SCLB","x":2600,"y":3150},{"m":"Passive-SCLB","x":2800,"y":3400},{"m":"Passive-SCLB","x":3000,"y":3600},{"m":"Passive-SCLB","x":3200,"y":3950},{"m":"Passive-SCLB","x":3400,"y":4300},{"m":"Passive-SCLB","x":3500,"y":4350},{"m":"Passive-SCLB","x":3700,"y":4950},
      {"m":"Planner-Sampler","x":1000,"y":1700},{"m":"Planner-Sampler","x":1150,"y":2200},{"m":"Planner-Sampler","x":1400,"y":2200},{"m":"Planner-Sampler","x":1600,"y":2250},{"m":"Planner-Sampler","x":1800,"y":2600},{"m":"Planner-Sampler","x":2000,"y":2700},{"m":"Planner-Sampler","x":2200,"y":3100},{"m":"Planner-Sampler","x":2450,"y":3300},{"m":"Planner-Sampler","x":2600,"y":3300},{"m":"Planner-Sampler","x":2800,"y":4000},{"m":"Planner-Sampler","x":3000,"y":4050},{"m":"Planner-Sampler","x":3200,"y":4600},{"m":"Planner-Sampler","x":3300,"y":4650},{"m":"Planner-Sampler","x":3450,"y":4950},
      {"m":"RFLinUCB","x":1000,"y":1500},{"m":"RFLinUCB","x":1100,"y":1900},{"m":"RFLinUCB","x":1300,"y":2000},{"m":"RFLinUCB","x":1600,"y":2000},{"m":"RFLinUCB","x":1800,"y":2100},{"m":"RFLinUCB","x":2000,"y":2350},{"m":"RFLinUCB","x":2200,"y":2700},{"m":"RFLinUCB","x":2400,"y":2950},{"m":"RFLinUCB","x":2600,"y":3100},{"m":"RFLinUCB","x":2800,"y":3400},{"m":"RFLinUCB","x":3000,"y":3550},{"m":"RFLinUCB","x":3200,"y":4000},{"m":"RFLinUCB","x":3400,"y":4200},{"m":"RFLinUCB","x":3500,"y":4400},{"m":"RFLinUCB","x":3700,"y":4950},
      {"m":"Active-SCLB","x":1000,"y":1000},{"m":"Active-SCLB","x":5000,"y":5000}
    ]
  },
  "columns": 5,
  "bounds": "flush",
  "spacing": {"row": 71, "column": 86},
  "concat": [
    {
      "width": 160, "height": 160,
      "data": {"name": "ta"},
      "encoding": {
        "x": {"field": "x", "type": "quantitative", "scale": {"domain": [-6, 152], "nice": false, "zero": false}, "axis": {"values": [0, 100], "format": "d", "title": "Number of samples"}},
        "y": {"field": "y", "type": "quantitative", "scale": {"domain": [-0.0045, 0.089], "nice": false, "zero": false}, "axis": {"values": [0, 0.025, 0.05, 0.075], "format": ".3f", "title": "Regret"}},
        "color": {"field": "m", "type": "nominal", "scale": {"domain": ["Passive-SCLB", "Planner-Sampler", "RFLinUCB", "Active-SCLB"], "range": ["#1ea8ec", "#b260cf", "#1fd47c", "#fb2461"]}}
      },
      "layer": [
        {"mark": {"type": "errorbar", "thickness": 1.6, "clip": true}, "encoding": {"yError": {"field": "e"}}},
        {"mark": {"type": "line", "strokeWidth": 1.6, "clip": true}, "encoding": {"strokeDash": {"field": "m", "type": "nominal", "scale": {"domain": ["Passive-SCLB", "Planner-Sampler", "RFLinUCB", "Active-SCLB"], "range": [[6, 3], [9, 3, 2, 3], [2, 2], [1, 0]]}}}}
      ]
    },
    {
      "width": 160, "height": 160,
      "data": {"name": "tb"},
      "encoding": {
        "x": {"field": "x", "type": "quantitative", "scale": {"domain": [-22, 522], "nice": false, "zero": false}, "axis": {"values": [0, 500], "format": "d", "title": "Number of samples"}},
        "y": {"field": "y", "type": "quantitative", "scale": {"domain": [-0.0027, 0.0573], "nice": false, "zero": false}, "axis": {"values": [0, 0.02, 0.04], "format": ".2f", "title": "Regret"}},
        "color": {"field": "m", "type": "nominal", "scale": {"domain": ["Passive-SCLB", "Planner-Sampler", "RFLinUCB", "Active-SCLB"], "range": ["#1ea8ec", "#b260cf", "#1fd47c", "#fb2461"]}}
      },
      "layer": [
        {"mark": {"type": "errorbar", "thickness": 1.6, "clip": true}, "encoding": {"yError": {"field": "e"}}},
        {"mark": {"type": "line", "strokeWidth": 1.6, "clip": true}, "encoding": {"strokeDash": {"field": "m", "type": "nominal", "scale": {"domain": ["Passive-SCLB", "Planner-Sampler", "RFLinUCB", "Active-SCLB"], "range": [[6, 3], [9, 3, 2, 3], [2, 2], [1, 0]]}}}}
      ]
    },
    {
      "width": 160, "height": 160,
      "data": {"name": "tc"},
      "encoding": {
        "x": {"field": "x", "type": "quantitative", "scale": {"domain": [-21, 521], "nice": false, "zero": false}, "axis": {"values": [0, 500], "format": "d", "title": "Number of samples"}},
        "y": {"field": "y", "type": "quantitative", "scale": {"domain": [-0.0001, 0.0131], "nice": false, "zero": false}, "axis": {"values": [0, 0.005, 0.01], "format": ".3f", "title": "Regret"}},
        "color": {"field": "m", "type": "nominal", "scale": {"domain": ["Passive-SCLB", "Planner-Sampler", "RFLinUCB", "Active-SCLB"], "range": ["#1ea8ec", "#b260cf", "#1fd47c", "#fb2461"]}}
      },
      "layer": [
        {"mark": {"type": "errorbar", "thickness": 1.6, "clip": true}, "encoding": {"yError": {"field": "e"}}},
        {"mark": {"type": "line", "strokeWidth": 1.6, "clip": true}, "encoding": {"strokeDash": {"field": "m", "type": "nominal", "scale": {"domain": ["Passive-SCLB", "Planner-Sampler", "RFLinUCB", "Active-SCLB"], "range": [[6, 3], [9, 3, 2, 3], [2, 2], [1, 0]]}}}}
      ]
    },
    {
      "width": 160, "height": 160,
      "data": {"name": "td"},
      "encoding": {
        "x": {"field": "x", "type": "quantitative", "scale": {"domain": [480, 15250], "nice": false, "zero": false}, "axis": {"values": [5000, 10000, 15000], "format": "d", "title": "Number of samples"}},
        "y": {"field": "y", "type": "quantitative", "scale": {"domain": [0.3159, 0.341], "nice": false, "zero": false}, "axis": {"values": [0.32, 0.33, 0.34], "format": ".2f", "title": "Regret"}},
        "color": {"field": "m", "type": "nominal", "scale": {"domain": ["Passive-SCLB", "Planner-Sampler", "RFLinUCB", "Active-SCLB"], "range": ["#1ea8ec", "#b260cf", "#1fd47c", "#fb2461"]}}
      },
      "layer": [
        {"mark": {"type": "errorbar", "thickness": 1.6, "clip": true}, "encoding": {"yError": {"field": "e"}}},
        {"mark": {"type": "line", "strokeWidth": 1.6, "clip": true}, "encoding": {"strokeDash": {"field": "m", "type": "nominal", "scale": {"domain": ["Passive-SCLB", "Planner-Sampler", "RFLinUCB", "Active-SCLB"], "range": [[6, 3], [9, 3, 2, 3], [2, 2], [1, 0]]}}}}
      ]
    },
    {
      "width": 160, "height": 160,
      "data": {"name": "te"},
      "encoding": {
        "x": {"field": "x", "type": "quantitative", "scale": {"domain": [885, 5197], "nice": false, "zero": false}, "axis": {"values": [2500, 5000], "format": "d", "title": "Number of samples"}},
        "y": {"field": "y", "type": "quantitative", "scale": {"domain": [0.171, 0.2071], "nice": false, "zero": false}, "axis": {"values": [0.18, 0.19, 0.2], "format": ".2f", "title": "Regret"}},
        "color": {"field": "m", "type": "nominal", "scale": {"domain": ["Passive-SCLB", "Planner-Sampler", "RFLinUCB", "Active-SCLB"], "range": ["#1ea8ec", "#b260cf", "#1fd47c", "#fb2461"]}}
      },
      "layer": [
        {"mark": {"type": "errorbar", "thickness": 1.6, "clip": true}, "encoding": {"yError": {"field": "e"}}},
        {"mark": {"type": "line", "strokeWidth": 1.6, "clip": true}, "encoding": {"strokeDash": {"field": "m", "type": "nominal", "scale": {"domain": ["Passive-SCLB", "Planner-Sampler", "RFLinUCB", "Active-SCLB"], "range": [[6, 3], [9, 3, 2, 3], [2, 2], [1, 0]]}}}}
      ]
    },
    {
      "width": 168, "height": 167,
      "data": {"name": "ba"},
      "title": {"text": "(a) ℬ⋆₅‚₁₀", "orient": "bottom", "offset": 38, "frame": "bounds", "anchor": "middle"},
      "mark": {"type": "line", "strokeWidth": 1.5, "clip": true},
      "encoding": {
        "x": {"field": "x", "type": "quantitative", "scale": {"domain": [1, 150], "nice": false, "zero": false}, "axis": {"values": [50, 100, 150], "format": "d", "title": "Samples (Active-SCLB)"}},
        "y": {"field": "y", "type": "quantitative", "scale": {"domain": [1, 150], "nice": false, "zero": false}, "axis": {"values": [50, 100, 150], "format": "d", "title": "Samples to match"}},
        "color": {"field": "m", "type": "nominal", "scale": {"domain": ["Passive-SCLB", "Planner-Sampler", "RFLinUCB", "Active-SCLB"], "range": ["#1ea8ec", "#b260cf", "#1fd47c", "#fb2461"]},
          "legend": {"orient": "none", "legendX": 47, "legendY": 533, "direction": "horizontal", "columns": 4, "title": null, "symbolType": "stroke", "symbolSize": 3000, "symbolStrokeWidth": 2, "labelFont": "Liberation Serif", "labelFontSize": 24.5, "labelColor": "#000", "labelOffset": 22, "columnPadding": 44, "labelLimit": 400}},
        "strokeDash": {"field": "m", "type": "nominal", "scale": {"domain": ["Passive-SCLB", "Planner-Sampler", "RFLinUCB", "Active-SCLB"], "range": [[6, 3], [9, 3, 2, 3], [2, 2], [1, 0]]},
          "legend": {"orient": "none", "legendX": 47, "legendY": 533, "direction": "horizontal", "columns": 4, "title": null, "symbolType": "stroke", "symbolSize": 3000, "symbolStrokeWidth": 2, "labelFont": "Liberation Serif", "labelFontSize": 24.5, "labelColor": "#000", "labelOffset": 22, "columnPadding": 44, "labelLimit": 400}}
      }
    },
    {
      "width": 168, "height": 167,
      "data": {"name": "bb"},
      "title": {"text": "(b) ℬ⋆₁₀‚₁₀", "orient": "bottom", "offset": 38, "frame": "bounds", "anchor": "middle"},
      "mark": {"type": "line", "strokeWidth": 1.5, "clip": true},
      "encoding": {
        "x": {"field": "x", "type": "quantitative", "scale": {"domain": [1, 500], "nice": false, "zero": false}, "axis": {"values": [200, 400], "format": "d", "title": "Samples (Active-SCLB)"}},
        "y": {"field": "y", "type": "quantitative", "scale": {"domain": [1, 500], "nice": false, "zero": false}, "axis": {"values": [200, 400], "format": "d", "title": "Samples to match"}},
        "color": {"field": "m", "type": "nominal", "scale": {"domain": ["Passive-SCLB", "Planner-Sampler", "RFLinUCB", "Active-SCLB"], "range": ["#1ea8ec", "#b260cf", "#1fd47c", "#fb2461"]}},
        "strokeDash": {"field": "m", "type": "nominal", "scale": {"domain": ["Passive-SCLB", "Planner-Sampler", "RFLinUCB", "Active-SCLB"], "range": [[6, 3], [9, 3, 2, 3], [2, 2], [1, 0]]}}
      }
    },
    {
      "width": 168, "height": 167,
      "data": {"name": "bc"},
      "title": {"text": "(c) ℬ⋆₅₀‚₁₀", "orient": "bottom", "offset": 38, "frame": "bounds", "anchor": "middle"},
      "mark": {"type": "line", "strokeWidth": 1.5, "clip": true},
      "encoding": {
        "x": {"field": "x", "type": "quantitative", "scale": {"domain": [1, 500], "nice": false, "zero": false}, "axis": {"values": [200, 400], "format": "d", "title": "Samples (Active-SCLB)"}},
        "y": {"field": "y", "type": "quantitative", "scale": {"domain": [1, 500], "nice": false, "zero": false}, "axis": {"values": [200, 400], "format": "d", "title": "Samples to match"}},
        "color": {"field": "m", "type": "nominal", "scale": {"domain": ["Passive-SCLB", "Planner-Sampler", "RFLinUCB", "Active-SCLB"], "range": ["#1ea8ec", "#b260cf", "#1fd47c", "#fb2461"]}},
        "strokeDash": {"field": "m", "type": "nominal", "scale": {"domain": ["Passive-SCLB", "Planner-Sampler", "RFLinUCB", "Active-SCLB"], "range": [[6, 3], [9, 3, 2, 3], [2, 2], [1, 0]]}}
      }
    },
    {
      "width": 168, "height": 167,
      "data": {"name": "bd"},
      "title": {"text": "(d) Warfarin", "orient": "bottom", "offset": 38, "frame": "bounds", "anchor": "middle"},
      "mark": {"type": "line", "strokeWidth": 1.5, "clip": true},
      "encoding": {
        "x": {"field": "x", "type": "quantitative", "scale": {"domain": [1050, 14650], "nice": false, "zero": false}, "axis": {"values": [5000, 10000], "format": "d", "title": "Samples (Active-SCLB)"}},
        "y": {"field": "y", "type": "quantitative", "scale": {"domain": [1050, 14650], "nice": false, "zero": false}, "axis": {"values": [5000, 10000], "format": "d", "title": "Samples to match"}},
        "color": {"field": "m", "type": "nominal", "scale": {"domain": ["Passive-SCLB", "Planner-Sampler", "RFLinUCB", "Active-SCLB"], "range": ["#1ea8ec", "#b260cf", "#1fd47c", "#fb2461"]}},
        "strokeDash": {"field": "m", "type": "nominal", "scale": {"domain": ["Passive-SCLB", "Planner-Sampler", "RFLinUCB", "Active-SCLB"], "range": [[6, 3], [9, 3, 2, 3], [2, 2], [1, 0]]}}
      }
    },
    {
      "width": 168, "height": 167,
      "data": {"name": "be"},
      "title": {"text": "(e) Jester", "orient": "bottom", "offset": 38, "frame": "bounds", "anchor": "middle"},
      "mark": {"type": "line", "strokeWidth": 1.5, "clip": true},
      "encoding": {
        "x": {"field": "x", "type": "quantitative", "scale": {"domain": [1000, 5000], "nice": false, "zero": false}, "axis": {"values": [2000, 4000], "format": "d", "title": "Samples (Active-SCLB)"}},
        "y": {"field": "y", "type": "quantitative", "scale": {"domain": [1000, 5000], "nice": false, "zero": false}, "axis": {"values": [1000, 2000, 3000, 4000, 5000], "format": "d", "title": "Samples to match"}},
        "color": {"field": "m", "type": "nominal", "scale": {"domain": ["Passive-SCLB", "Planner-Sampler", "RFLinUCB", "Active-SCLB"], "range": ["#1ea8ec", "#b260cf", "#1fd47c", "#fb2461"]}},
        "strokeDash": {"field": "m", "type": "nominal", "scale": {"domain": ["Passive-SCLB", "Planner-Sampler", "RFLinUCB", "Active-SCLB"], "range": [[6, 3], [9, 3, 2, 3], [2, 2], [1, 0]]}}
      }
    }
  ]
}
